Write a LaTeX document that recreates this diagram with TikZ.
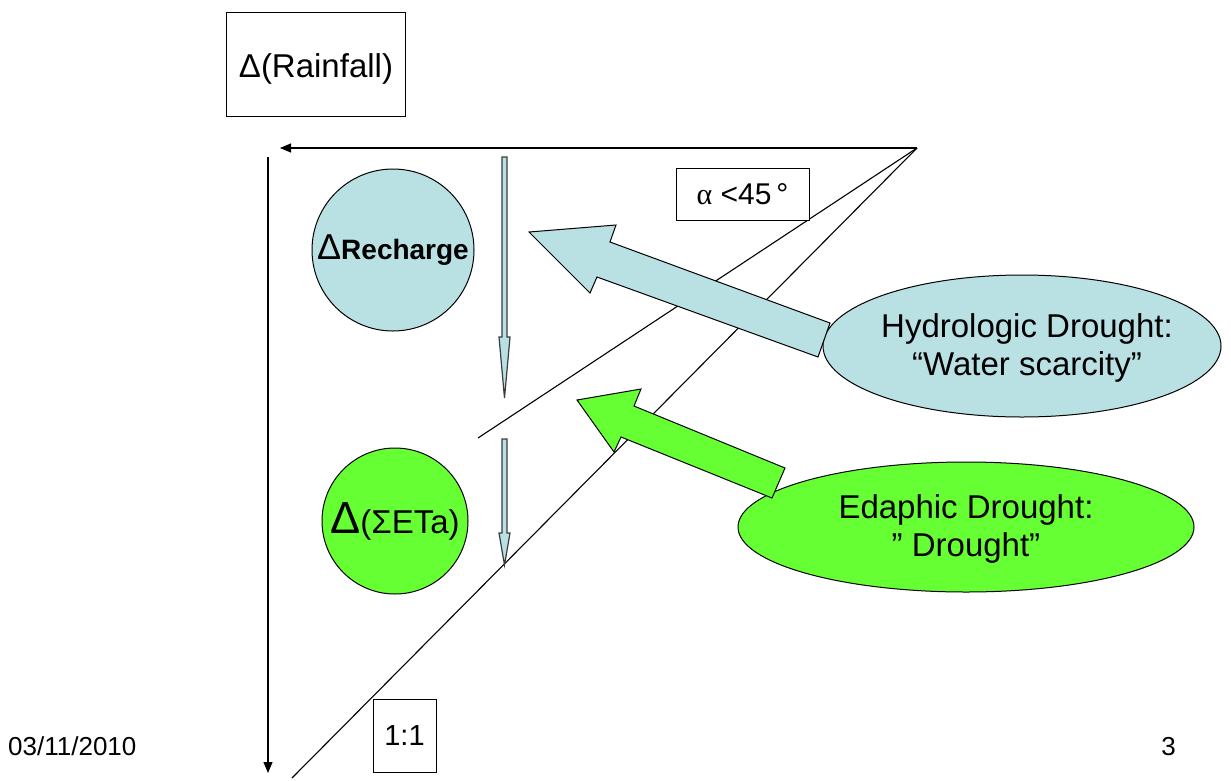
\documentclass[tikz,border=0pt]{standalone}
\usepackage{fontspec}
\setmainfont{Liberation Sans}
\newfontfamily\symfont{Liberation Serif}
\usetikzlibrary{arrows.meta,shapes.geometric}
\definecolor{lblue}{RGB}{185,224,227}
\definecolor{lgreen}{RGB}{102,255,51}
\definecolor{outl}{RGB}{60,60,60}
\newcommand\fsz[1]{\fontsize{#1}{1.16\dimexpr #1pt\relax}\selectfont}
\begin{document}
\begin{tikzpicture}[x=1pt,y=-1pt,
  ln/.style={line width=1.1pt},
  axisarrow/.style={ln,-{Triangle[length=11pt,width=9pt]}},
  boxnode/.style={draw,line width=1pt,fill=white,inner sep=0pt},
  blob/.style={draw,line width=1pt,inner sep=0pt},
  thinarrow/.style={draw=outl,fill=lblue,line width=1.2pt,line join=miter},
  bigarrow/.style={draw,line width=1pt,line join=miter},
  lbl/.style={inner sep=0pt,align=center,font=\fsz{33}}]
\useasboundingbox (0,0) rectangle (1231,780);

% axes and lines
\coordinate (apex) at (917,148);
\coordinate (htip) at (280,148);
\coordinate (vtop) at (268,157);
\coordinate (vtip) at (268,773);
\coordinate (aend) at (478,438);
\coordinate (oend) at (292,778);
\draw[axisarrow] (apex) -- (htip);
\draw[axisarrow] (vtop) -- (vtip);
\draw[ln] (apex) -- (aend);
\draw[ln] (apex) -- (oend);

% boxes
\node[boxnode,minimum width=179pt,minimum height=104pt] (rain) at (315.5,64) {};
\node[inner sep=0pt,font=\fsz{33}] (raintxt) at (316,69) {Δ(Rainfall)};
\node[boxnode,minimum width=133pt,minimum height=52pt] (alpha) at (742.5,194) {\fsz{30}{\symfont α} <45\,°};
\node[boxnode,minimum width=63pt,minimum height=73pt] (ratio) at (404.5,735.5) {\fsz{29}1:1};

% circles
\node[blob,circle,fill=lblue,minimum size=162pt] (rech) at (393,250) {\fsz{36}Δ\fsz{28}\bfseries Recharge};
\node[blob,circle,fill=lgreen,minimum size=146pt] (eta) at (395,521) {\fsz{45}Δ\fsz{33}(ΣETa)};

% thin down arrows
\draw[thinarrow] (502,157) -- (507,157) -- (507,337) -- (510,337) -- (504.5,398) -- (499,337) -- (502,337) -- cycle;
\draw[thinarrow] (502,439) -- (507,439) -- (507,533) -- (510,533) -- (504.5,565) -- (499,533) -- (502,533) -- cycle;

% ellipses
\node[blob,ellipse,fill=lblue,minimum width=398pt,minimum height=142pt] (hyd) at (1022,346) {};
\node[blob,ellipse,fill=lgreen,minimum width=456pt,minimum height=130pt] (eda) at (966,527) {};

% big arrows
\draw[bigarrow,fill=lblue] (529,232) -- (616,225) -- (610,242) -- (830,323) -- (818,357) -- (597,277) -- (590,293) -- cycle;
\draw[bigarrow,fill=lgreen] (577,400) -- (641,389) -- (634,406) -- (785,468) -- (772,498) -- (621,437) -- (614,452) -- cycle;

% ellipse texts
\node[lbl] (hydtxt) at (1027,348) {Hydrologic Drought:\\“Water scarcity”};
\node[lbl] (edatxt) at (966,529) {Edaphic Drought:\\” Drought”};

% footer
\node[anchor=base west,inner sep=0pt] (date) at (8,755) {\fsz{26}03/11/2010};
\node[anchor=base east,inner sep=0pt] (page) at (1176,755) {\fsz{26}3};
\end{tikzpicture}
\end{document}
